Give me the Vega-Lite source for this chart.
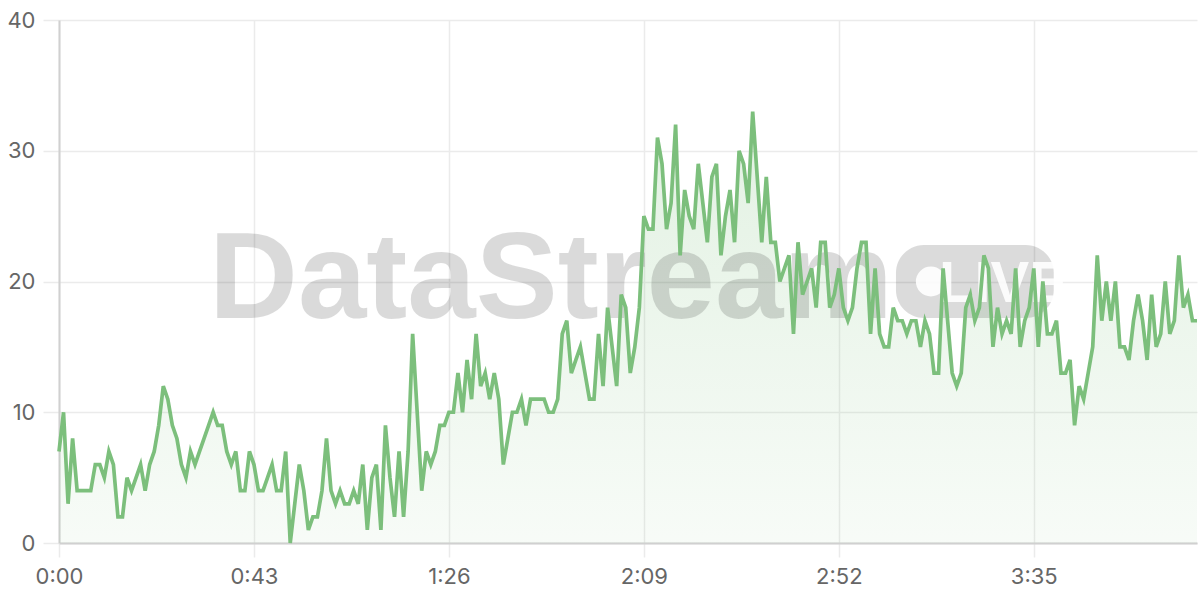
{
  "$schema": "https://vega.github.io/schema/vega-lite/v6.json",
  "width": 1138,
  "height": 523,
  "autosize": {"type": "none"},
  "padding": {"left": 59, "top": 20, "right": 3, "bottom": 57},
  "background": "#ffffff",
  "config": {
    "view": {"stroke": null},
    "font": "Inter",
    "axis": {"labelFont": "Inter", "labelColor": "#666666", "labelFontSize": 22, "gridColor": "#ebebeb", "gridWidth": 1.5, "tickColor": "#ebebeb", "tickWidth": 1.5, "title": null}
  },
  "datasets": {
    "series": [
      {"t":0,"v":7},{"t":1,"v":10},{"t":2,"v":3},{"t":3,"v":8},{"t":4,"v":4},{"t":5,"v":4},{"t":6,"v":4},{"t":7,"v":4},{"t":8,"v":6},{"t":9,"v":6},
      {"t":10,"v":5},{"t":11,"v":7},{"t":12,"v":6},{"t":13,"v":2},{"t":14,"v":2},{"t":15,"v":5},{"t":16,"v":4},{"t":17,"v":5},{"t":18,"v":6},{"t":19,"v":4},
      {"t":20,"v":6},{"t":21,"v":7},{"t":22,"v":9},{"t":23,"v":12},{"t":24,"v":11},{"t":25,"v":9},{"t":26,"v":8},{"t":27,"v":6},{"t":28,"v":5},{"t":29,"v":7},
      {"t":30,"v":6},{"t":31,"v":7},{"t":32,"v":8},{"t":33,"v":9},{"t":34,"v":10},{"t":35,"v":9},{"t":36,"v":9},{"t":37,"v":7},{"t":38,"v":6},{"t":39,"v":7},
      {"t":40,"v":4},{"t":41,"v":4},{"t":42,"v":7},{"t":43,"v":6},{"t":44,"v":4},{"t":45,"v":4},{"t":46,"v":5},{"t":47,"v":6},{"t":48,"v":4},{"t":49,"v":4},
      {"t":50,"v":7},{"t":51,"v":0},{"t":52,"v":3},{"t":53,"v":6},{"t":54,"v":4},{"t":55,"v":1},{"t":56,"v":2},{"t":57,"v":2},{"t":58,"v":4},{"t":59,"v":8},
      {"t":60,"v":4},{"t":61,"v":3},{"t":62,"v":4},{"t":63,"v":3},{"t":64,"v":3},{"t":65,"v":4},{"t":66,"v":3},{"t":67,"v":6},{"t":68,"v":1},{"t":69,"v":5},
      {"t":70,"v":6},{"t":71,"v":1},{"t":72,"v":9},{"t":73,"v":5},{"t":74,"v":2},{"t":75,"v":7},{"t":76,"v":2},{"t":77,"v":7},{"t":78,"v":16},{"t":79,"v":10},
      {"t":80,"v":4},{"t":81,"v":7},{"t":82,"v":6},{"t":83,"v":7},{"t":84,"v":9},{"t":85,"v":9},{"t":86,"v":10},{"t":87,"v":10},{"t":88,"v":13},{"t":89,"v":10},
      {"t":90,"v":14},{"t":91,"v":11},{"t":92,"v":16},{"t":93,"v":12},{"t":94,"v":13},{"t":95,"v":11},{"t":96,"v":13},{"t":97,"v":11},{"t":98,"v":6},{"t":99,"v":8},
      {"t":100,"v":10},{"t":101,"v":10},{"t":102,"v":11},{"t":103,"v":9},{"t":104,"v":11},{"t":105,"v":11},{"t":106,"v":11},{"t":107,"v":11},{"t":108,"v":10},{"t":109,"v":10},
      {"t":110,"v":11},{"t":111,"v":16},{"t":112,"v":17},{"t":113,"v":13},{"t":114,"v":14},{"t":115,"v":15},{"t":116,"v":13},{"t":117,"v":11},{"t":118,"v":11},{"t":119,"v":16},
      {"t":120,"v":12},{"t":121,"v":18},{"t":122,"v":15},{"t":123,"v":12},{"t":124,"v":19},{"t":125,"v":18},{"t":126,"v":13},{"t":127,"v":15},{"t":128,"v":18},{"t":129,"v":25},
      {"t":130,"v":24},{"t":131,"v":24},{"t":132,"v":31},{"t":133,"v":29},{"t":134,"v":24},{"t":135,"v":26},{"t":136,"v":32},{"t":137,"v":22},{"t":138,"v":27},{"t":139,"v":25},
      {"t":140,"v":24},{"t":141,"v":29},{"t":142,"v":26},{"t":143,"v":23},{"t":144,"v":28},{"t":145,"v":29},{"t":146,"v":22},{"t":147,"v":25},{"t":148,"v":27},{"t":149,"v":23},
      {"t":150,"v":30},{"t":151,"v":29},{"t":152,"v":26},{"t":153,"v":33},{"t":154,"v":28},{"t":155,"v":23},{"t":156,"v":28},{"t":157,"v":23},{"t":158,"v":23},{"t":159,"v":20},
      {"t":160,"v":21},{"t":161,"v":22},{"t":162,"v":16},{"t":163,"v":23},{"t":164,"v":19},{"t":165,"v":20},{"t":166,"v":21},{"t":167,"v":18},{"t":168,"v":23},{"t":169,"v":23},
      {"t":170,"v":18},{"t":171,"v":19},{"t":172,"v":21},{"t":173,"v":18},{"t":174,"v":17},{"t":175,"v":18},{"t":176,"v":21},{"t":177,"v":23},{"t":178,"v":23},{"t":179,"v":16},
      {"t":180,"v":21},{"t":181,"v":16},{"t":182,"v":15},{"t":183,"v":15},{"t":184,"v":18},{"t":185,"v":17},{"t":186,"v":17},{"t":187,"v":16},{"t":188,"v":17},{"t":189,"v":17},
      {"t":190,"v":15},{"t":191,"v":17},{"t":192,"v":16},{"t":193,"v":13},{"t":194,"v":13},{"t":195,"v":21},{"t":196,"v":17},{"t":197,"v":13},{"t":198,"v":12},{"t":199,"v":13},
      {"t":200,"v":18},{"t":201,"v":19},{"t":202,"v":17},{"t":203,"v":18},{"t":204,"v":22},{"t":205,"v":21},{"t":206,"v":15},{"t":207,"v":18},{"t":208,"v":16},{"t":209,"v":17},
      {"t":210,"v":16},{"t":211,"v":21},{"t":212,"v":15},{"t":213,"v":17},{"t":214,"v":18},{"t":215,"v":21},{"t":216,"v":15},{"t":217,"v":20},{"t":218,"v":16},{"t":219,"v":16},
      {"t":220,"v":17},{"t":221,"v":13},{"t":222,"v":13},{"t":223,"v":14},{"t":224,"v":9},{"t":225,"v":12},{"t":226,"v":11},{"t":227,"v":13},{"t":228,"v":15},{"t":229,"v":22},
      {"t":230,"v":17},{"t":231,"v":20},{"t":232,"v":17},{"t":233,"v":20},{"t":234,"v":15},{"t":235,"v":15},{"t":236,"v":14},{"t":237,"v":17},{"t":238,"v":19},{"t":239,"v":17},
      {"t":240,"v":14},{"t":241,"v":19},{"t":242,"v":15},{"t":243,"v":16},{"t":244,"v":20},{"t":245,"v":16},{"t":246,"v":17},{"t":247,"v":22},{"t":248,"v":18},{"t":249,"v":19},
      {"t":250,"v":17},{"t":251,"v":17}
    ],
    "one": [{"label": "DataStream", "badge": "LIVE"}]
  },
  "layer": [
    {
      "data": {"name": "series"},
      "mark": {"type": "area", "color": {"gradient": "linear", "x1": 0, "y1": 0, "x2": 0, "y2": 1, "stops": [{"offset": 0, "color": "rgba(124,192,124,0.22)"}, {"offset": 1, "color": "rgba(124,192,124,0.06)"}]}},
      "encoding": {
        "x": {"field": "t", "type": "quantitative", "scale": {"domain": [0, 251], "nice": false, "zero": false},
          "axis": {"values": [0, 43, 86, 129, 172, 215], "labelExpr": "floor(datum.value/60) + ':' + (datum.value % 60 < 10 ? '0' : '') + (datum.value % 60)", "tickSize": 14, "labelPadding": 9, "domainColor": "#d0d0d0", "domainWidth": 2, "labelFlush": false}},
        "y": {"field": "v", "type": "quantitative", "scale": {"domain": [0, 40], "nice": false},
          "axis": {"values": [0, 10, 20, 30, 40], "tickSize": 16, "labelPadding": 8, "domainColor": "#d0d0d0", "domainWidth": 2}}
      }
    },
    {
      "data": {"name": "one"},
      "mark": {"type": "text", "font": "Liberation Sans", "fontWeight": "bold", "fontSize": 123, "align": "center", "baseline": "alphabetic", "color": "#000000", "opacity": 0.14},
      "encoding": {
        "text": {"field": "label"},
        "x": {"datum": 108.5, "type": "quantitative"},
        "y": {"datum": 17.2, "type": "quantitative"}
      }
    },
    {
      "data": {"name": "one"},
      "mark": {"type": "rect", "color": "#000000", "opacity": 0.14, "cornerRadius": 28},
      "encoding": {
        "x": {"datum": 184.6, "type": "quantitative"},
        "x2": {"datum": 219.4},
        "y": {"datum": 17.2, "type": "quantitative"},
        "y2": {"datum": 22.8}
      }
    },
    {
      "data": {"name": "one"},
      "mark": {"type": "point", "shape": "circle", "filled": true, "color": "#ffffff", "opacity": 0.9, "size": 900},
      "encoding": {
        "x": {"datum": 192.3, "type": "quantitative"},
        "y": {"datum": 20.0, "type": "quantitative"}
      }
    },
    {
      "data": {"name": "one"},
      "mark": {"type": "text", "font": "Liberation Sans", "fontWeight": "bold", "fontSize": 58, "align": "center", "baseline": "alphabetic", "color": "#ffffff", "opacity": 0.9},
      "encoding": {
        "text": {"field": "badge"},
        "x": {"datum": 208.3, "type": "quantitative"},
        "y": {"datum": 18.4, "type": "quantitative"}
      }
    },
    {
      "data": {"name": "series"},
      "mark": {"type": "line", "color": "#7cbf7c", "strokeWidth": 3.7},
      "encoding": {
        "x": {"field": "t", "type": "quantitative"},
        "y": {"field": "v", "type": "quantitative"}
      }
    }
  ]
}
